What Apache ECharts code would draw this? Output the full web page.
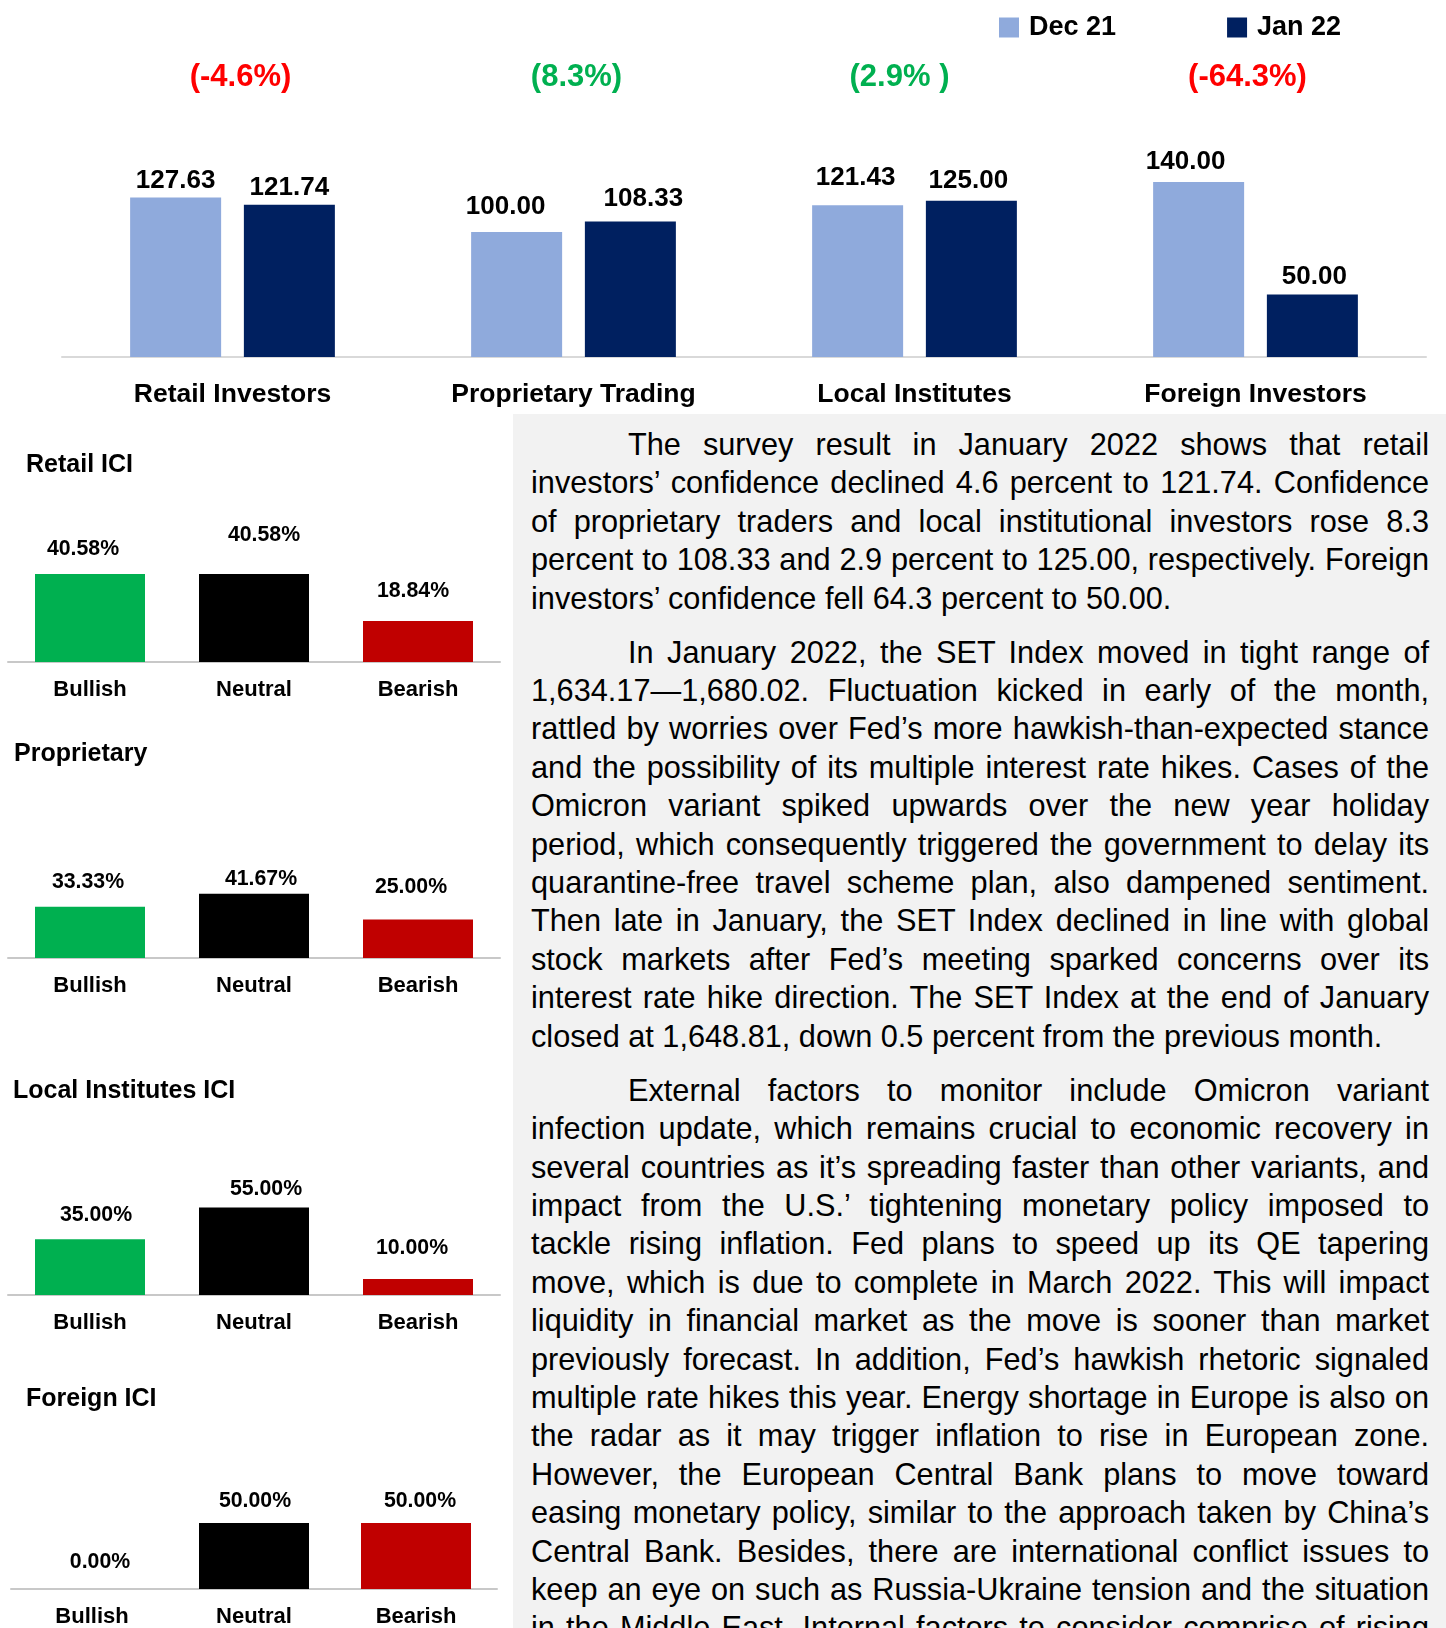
<!DOCTYPE html>
<html>
<head>
<meta charset="utf-8">
<title>Investor Confidence Index</title>
<script src="https://cdn.jsdelivr.net/npm/echarts@6.0.0/dist/echarts.min.js"></script>
<style>
    body { margin: 0; background: #fff; }
    #page { position: relative; width: 1446px; height: 1628px; overflow: hidden; }
    #chart { position: absolute; left: 0; top: 0; width: 1446px; height: 1628px; }
    #notes {
        position: absolute; left: 513px; top: 414px; width: 933px; height: 1214px;
        box-sizing: border-box; padding: 12px 17px 0 18px;
        background: #f2f2f2; overflow: hidden;
        font-family: 'Liberation Sans', Arial, sans-serif; font-size: 30.7px; line-height: 38.4px;
        color: #000;
    }
    #notes p { margin: 0; }
    #notes p + p { margin-top: 15.6px; }
    /* one span per printed line, stretched like the justified original */
    #notes .l { display: block; text-align: justify; text-align-last: justify; }
    #notes .l.first { padding-left: 97px; }
    #notes .l.end { text-align-last: left; }
</style>
</head>
<body>
<div id="page">
    <div id="chart"></div>
    <div id="notes">
        <p>
            <span class="l first">The survey result in January 2022 shows that retail</span>
            <span class="l">investors’ confidence declined 4.6 percent to 121.74. Confidence</span>
            <span class="l">of proprietary traders and local institutional investors rose 8.3</span>
            <span class="l">percent to 108.33 and 2.9 percent to 125.00, respectively. Foreign</span>
            <span class="l end">investors’ confidence fell 64.3 percent to 50.00.</span>
        </p>
        <p>
            <span class="l first">In January 2022, the SET Index moved in tight range of</span>
            <span class="l">1,634.17—1,680.02. Fluctuation kicked in early of the month,</span>
            <span class="l">rattled by worries over Fed’s more hawkish-than-expected stance</span>
            <span class="l">and the possibility of its multiple interest rate hikes. Cases of the</span>
            <span class="l">Omicron variant spiked upwards over the new year holiday</span>
            <span class="l">period, which consequently triggered the government to delay its</span>
            <span class="l">quarantine-free travel scheme plan, also dampened sentiment.</span>
            <span class="l">Then late in January, the SET Index declined in line with global</span>
            <span class="l">stock markets after Fed’s meeting sparked concerns over its</span>
            <span class="l">interest rate hike direction. The SET Index at the end of January</span>
            <span class="l end">closed at 1,648.81, down 0.5 percent from the previous month.</span>
        </p>
        <p>
            <span class="l first">External factors to monitor include Omicron variant</span>
            <span class="l">infection update, which remains crucial to economic recovery in</span>
            <span class="l">several countries as it’s spreading faster than other variants, and</span>
            <span class="l">impact from the U.S.’ tightening monetary policy imposed to</span>
            <span class="l">tackle rising inflation. Fed plans to speed up its QE tapering</span>
            <span class="l">move, which is due to complete in March 2022. This will impact</span>
            <span class="l">liquidity in financial market as the move is sooner than market</span>
            <span class="l">previously forecast. In addition, Fed’s hawkish rhetoric signaled</span>
            <span class="l">multiple rate hikes this year. Energy shortage in Europe is also on</span>
            <span class="l">the radar as it may trigger inflation to rise in European zone.</span>
            <span class="l">However, the European Central Bank plans to move toward</span>
            <span class="l">easing monetary policy, similar to the approach taken by China’s</span>
            <span class="l">Central Bank. Besides, there are international conflict issues to</span>
            <span class="l">keep an eye on such as Russia-Ukraine tension and the situation</span>
            <span class="l">in the Middle East. Internal factors to consider comprise of rising</span>
        </p>
    </div>
</div>
<script>
// data
const categories = ['Retail Investors', 'Proprietary Trading', 'Local Institutes', 'Foreign Investors'];
const dec21 = [127.63, 100.00, 121.43, 140.00];
const jan22 = [121.74, 108.33, 125.00, 50.00];
const changeLabels = ['(-4.6%)', '(8.3%)', '(2.9% )', '(-64.3%)'];

const sentiments = ['Bullish', 'Neutral', 'Bearish'];
const retailICI = [40.58, 40.58, 18.84];
const proprietaryICI = [33.33, 41.67, 25.00];
const localICI = [35.00, 55.00, 10.00];
const foreignICI = [0.00, 50.00, 50.00];

const FONT = "'Liberation Sans', Arial, sans-serif";
const sentimentColors = ['#00b050', '#000000', '#c00000'];

// hand placed labels in the original: small [dx, dy] nudges
const decLabelNudge = [[0, 5], [-11, -3], [-2, -5], [-13, 2]];
const janLabelNudge = [[0, 5], [13, -1], [-3, 2], [2, 4]];
const changeLabelShift = [8, 3, -15, -8];

const chart = echarts.init(document.getElementById('chart'));

const iciPanels = [
    { title: 'Retail ICI', data: retailICI, grid: { left: 8, width: 492, top: 445, height: 217 }, titlePos: { left: 26, top: 453 },
      nudge: [[-7, 2], [10, -12], [-5, -4]] },
    { title: 'Proprietary', data: proprietaryICI, grid: { left: 8, width: 492, top: 804, height: 154 }, titlePos: { left: 14, top: 742 },
      nudge: [[-2, 2], [7, 12], [-7, -6]] },
    { title: 'Local Institutes ICI', data: localICI, grid: { left: 8, width: 492, top: 1136, height: 159 }, titlePos: { left: 13, top: 1079 },
      nudge: [[6, 2], [12, 8], [-6, -4]] },
    { title: 'Foreign ICI', data: foreignICI, grid: { left: 11, width: 486, top: 1457, height: 136 }, titlePos: { left: 26, top: 1387 },
      nudge: [[8, 0], [1, 5], [4, 5]] }
];

function withNudge(values, nudge) {
    return values.map((v, i) => ({ value: v, label: { offset: nudge[i] } }));
}

const changeRich = {};
changeLabels.forEach((c, i) => {
    const s = changeLabelShift[i];
    changeRich['c' + i] = {
        color: c.indexOf('-') >= 0 ? '#ff0000' : '#00b050',
        fontFamily: FONT, fontWeight: 'bold', fontSize: 31,
        padding: s > 0 ? [0, 0, 0, 2 * s] : [0, -2 * s, 0, 0]
    };
});

const grids = [{ left: 62, width: 1364, top: 107, height: 250 }];
const xAxes = [
    {
        type: 'category', gridIndex: 0, data: categories,
        axisLine: { lineStyle: { color: '#d9d9d9', width: 2 } },
        axisTick: { show: false },
        axisLabel: { color: '#000', fontFamily: FONT, fontWeight: 'bold', fontSize: 26.5, margin: 24 }
    },
    {
        type: 'category', gridIndex: 0, position: 'top', data: changeLabels,
        axisLine: { show: false }, axisTick: { show: false },
        axisLabel: {
            margin: 14,
            formatter: (v, i) => '{c' + i + '|' + v + '}',
            rich: changeRich
        }
    }
];
const yAxes = [{ type: 'value', gridIndex: 0, min: 0, max: 200, show: false }];

const topLabel = { show: true, position: 'top', distance: 9, color: '#000', fontFamily: FONT, fontWeight: 'bold', fontSize: 26, formatter: p => p.value.toFixed(2) };

const series = [
    {
        name: 'Dec 21', type: 'bar', xAxisIndex: 0, yAxisIndex: 0, data: withNudge(dec21, decLabelNudge),
        barWidth: 91, barGap: '25%',
        itemStyle: { color: '#8faadc' },
        label: topLabel
    },
    {
        name: 'Jan 22', type: 'bar', xAxisIndex: 0, yAxisIndex: 0, data: withNudge(jan22, janLabelNudge),
        barWidth: 91, barGap: '25%',
        itemStyle: { color: '#002060' },
        label: topLabel
    }
];

const titles = [];
iciPanels.forEach((panel, i) => {
    const idx = i + 1;
    grids.push(panel.grid);
    xAxes.push({
        type: 'category', gridIndex: idx, data: sentiments,
        axisLine: { lineStyle: { color: '#c8c8c8', width: 2 } },
        axisTick: { show: false },
        axisLabel: { color: '#000', fontFamily: FONT, fontWeight: 'bold', fontSize: 22, margin: 17 }
    });
    yAxes.push({ type: 'value', gridIndex: idx, min: 0, max: 100, show: false });
    series.push({
        name: panel.title, type: 'bar', xAxisIndex: idx + 1, yAxisIndex: idx, data: withNudge(panel.data, panel.nudge),
        barWidth: 110,
        itemStyle: { color: p => sentimentColors[p.dataIndex] },
        label: { show: true, position: 'top', distance: 16, color: '#000', fontFamily: FONT, fontWeight: 'bold', fontSize: 21.3, formatter: p => p.value.toFixed(2) + '%' }
    });
    titles.push({
        text: panel.title, left: panel.titlePos.left, top: panel.titlePos.top, padding: 0,
        textStyle: { color: '#000', fontFamily: FONT, fontWeight: 'bold', fontSize: 25 }
    });
});

const option = {
    animation: false,
    backgroundColor: '#fff',
    title: titles,
    legend: {
        data: ['Dec 21', 'Jan 22'],
        left: 999, top: 14, padding: 0,
        icon: 'rect', itemWidth: 20, itemHeight: 20, itemGap: 111,
        textStyle: { color: '#000', fontFamily: FONT, fontWeight: 'bold', fontSize: 27, padding: [0, 0, 0, 5] }
    },
    grid: grids,
    xAxis: xAxes,
    yAxis: yAxes,
    series: series
};

chart.setOption(option);
</script>
</body>
</html>
